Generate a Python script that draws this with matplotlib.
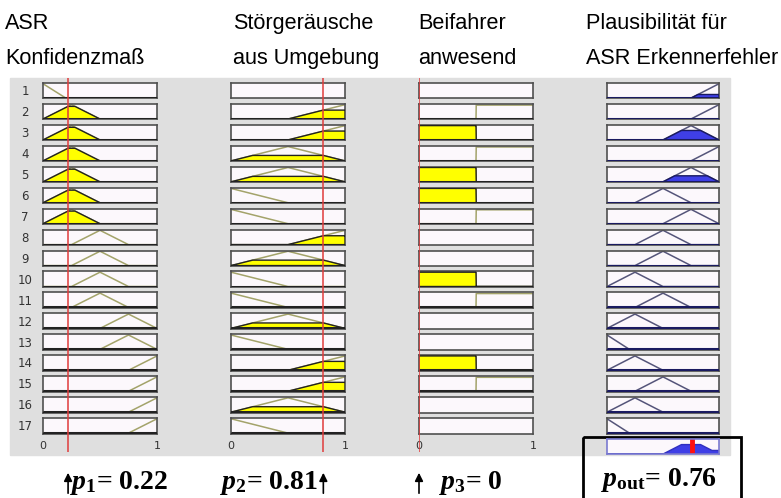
import numpy as np
import matplotlib
matplotlib.use('Agg')
import matplotlib.pyplot as plt
from matplotlib.patches import Rectangle

plt.rcParams['mathtext.fontset'] = 'custom'
plt.rcParams['mathtext.it'] = 'Liberation Serif:italic:bold'
plt.rcParams['mathtext.rm'] = 'Liberation Serif:bold'
plt.rcParams['mathtext.bf'] = 'Liberation Serif:bold'

# column headers
headers = [('ASR', 'Konfidenzmaß'), ('Störgeräusche', 'aus Umgebung'),
           ('Beifahrer', 'anwesend'), ('Plausibilität für', 'ASR Erkennerfehler')]

# membership function shapes (vertices on [0, 1])
mf_shapes = {
    'z20': ([0, 0.2, 1], [1, 0, 0]),
    'z50': ([0, 0.5, 1], [1, 0, 0]),
    't0': ([0, 0.25, 0.5, 1], [0, 1, 0, 0]),
    't25': ([0, 0.25, 0.5, 0.75, 1], [0, 0, 1, 0, 0]),
    't50': ([0, 0.5, 0.75, 1], [0, 0, 1, 0]),
    'tmid': ([0, 0.5, 1], [0, 1, 0]),
    's50': ([0, 0.5, 1], [0, 0, 1]),
    's75': ([0, 0.75, 1], [0, 0, 1]),
    'ja': ([0, 0.5, 0.502, 1], [0, 0, 0.97, 0.97]),
    'nein': ([0, 0.5, 0.502, 1], [1, 1, 0, 0]),
}

# rule base: one entry per rule (row), None = input not used
in1_rules = ['z20', 't0', 't0', 't0', 't0', 't0', 't0', 't25', 't25', 't25', 't25',
             't50', 't50', 's75', 's75', 's75', 's75']
in2_rules = [None, 's50', 's50', 'tmid', 'tmid', 'z50', 'z50', 's50', 'tmid', 'z50', 'z50',
             'tmid', 'z50', 's50', 's50', 'tmid', 'z50']
in3_rules = [None, 'ja', 'nein', 'ja', 'nein', 'nein', 'ja', None, None, 'nein', 'ja',
             None, None, 'nein', 'ja', None, None]
out_rules = ['s75', 's75', 't50', 's75', 't50', 't25', 't50', 't25', 't25', 't0', 't25',
             't0', 'z20', 't0', 't25', 't0', 'z20']
fire = [0.25, 0, 0.66, 0, 0.42, 0, 0, 0, 0, 0, 0, 0, 0, 0, 0, 0, 0]

inputs = [0.22, 0.81, 0.0]
p_out = 0.76
in_labels = [r'$p_1$= 0.22', r'$p_2$= 0.81', r'$p_3$= 0']
out_label = r'$p_{\mathrm{out}}$= 0.76'

W, H = 781, 498
fig = plt.figure(figsize=(W / 100, H / 100), dpi=100)
base = fig.add_axes([0, 0, 1, 1])
base.set_xlim(0, W)
base.set_ylim(H, 0)
base.axis('off')
base.add_patch(Rectangle((10, 78), 720, 377, color='#dfdfdf', zorder=0))


def px_axes(x, y, w, h):
    return fig.add_axes([x / W, 1 - (y + h) / H, w / W, h / H])


def box_style(ax, edge):
    ax.set_facecolor('#fcf8fc')
    ax.set_xlim(0, 1)
    ax.set_ylim(-0.03, 1.05)
    ax.set_xticks([])
    ax.set_yticks([])
    for s in ax.spines.values():
        s.set_color(edge)
        s.set_linewidth(1.2)


col_left = [43, 231, 419, 607]
col_w = [114, 114, 114, 112]
top0, pitch, bh = 83, 20.94, 15.5
xx = np.linspace(0, 1, 501)
yel_line = '#a3a36a'
blue_line = '#55557a'

# headers
hdr_x = [5, 233, 418, 586]
for (l1, l2), hx in zip(headers, hdr_x):
    base.text(hx, 29, l1, fontsize=15.6, family='Liberation Sans', va='baseline')
    base.text(hx, 64, l2, fontsize=15.6, family='Liberation Sans', va='baseline')

all_rules = [in1_rules, in2_rules, in3_rules, out_rules]
for r in range(17):
    y = top0 + r * pitch
    base.text(25, y + bh / 2 + 1, str(r + 1), fontsize=8.5, color='#333333',
              ha='center', va='center', family='DejaVu Sans')
    for c in range(4):
        ax = px_axes(col_left[c], y, col_w[c], bh)
        box_style(ax, '#505050')
        name = all_rules[c][r]
        if name is None:
            continue
        vx, vy = mf_shapes[name]
        mu = np.interp(xx, vx, vy)
        if c < 3:
            deg = np.interp(inputs[c], vx, vy)
            face, edge, lc = '#ffff00', '#222222', yel_line
        else:
            deg = fire[r]
            face, edge, lc = '#3f3fe6', '#1a1a60', blue_line
        ax.plot(vx, vy, color=lc, lw=1.1, zorder=2)
        clip = np.minimum(mu, deg)
        ax.fill(np.r_[0, xx, 1], np.r_[0, clip, 0], facecolor=face,
                edgecolor=edge, lw=1.0, zorder=3)
        ax.plot([0, 1], [0, 0], color=edge, lw=2.2, zorder=4, solid_capstyle='butt')

# aggregated output
y_out = top0 + 17 * pitch
ax = px_axes(col_left[3], y_out, col_w[3], bh)
box_style(ax, '#7a7ad0')
agg = np.zeros_like(xx)
for name, d in zip(out_rules, fire):
    vx, vy = mf_shapes[name]
    agg = np.maximum(agg, np.minimum(np.interp(xx, vx, vy), d))
ax.fill(np.r_[0, xx, 1], np.r_[0, agg, 0], facecolor='#3f3fe6', edgecolor='#3030c0', lw=1)
ax.axvline(p_out, color='#ff1010', lw=3.5)

# input value lines, tick labels, arrows and values
for c in range(3):
    cax = px_axes(col_left[c], 78, col_w[c], 452 - 78)
    cax.set_xlim(0, 1)
    cax.set_ylim(0, 1)
    cax.axis('off')
    cax.axvline(inputs[c], color='#e03c3c', lw=1.1)
    cx = col_left[c] + inputs[c] * col_w[c]
    base.text(col_left[c], 446, '0', fontsize=8, color='#333333', ha='center', va='center')
    base.text(col_left[c] + col_w[c], 446, '1', fontsize=8, color='#333333', ha='center', va='center')
    base.annotate('', xy=(cx, 470), xytext=(cx, 496),
                  arrowprops=dict(arrowstyle='-|>', color='black', lw=1.2, mutation_scale=12))

lab_pos = [(70, 'left'), (318, 'right'), (439, 'left')]
for (lx, ha), lab in zip(lab_pos, in_labels):
    base.text(lx, 489, lab, fontsize=20, family='Liberation Serif', fontweight='bold',
              ha=ha, va='baseline')

base.add_patch(Rectangle((583, 437), 158, 70, fill=False, edgecolor='black', lw=2, zorder=5))
base.text(659, 486, out_label, fontsize=20, family='Liberation Serif', fontweight='bold',
          ha='center', va='baseline')

fig.savefig('out.png', dpi=100)
